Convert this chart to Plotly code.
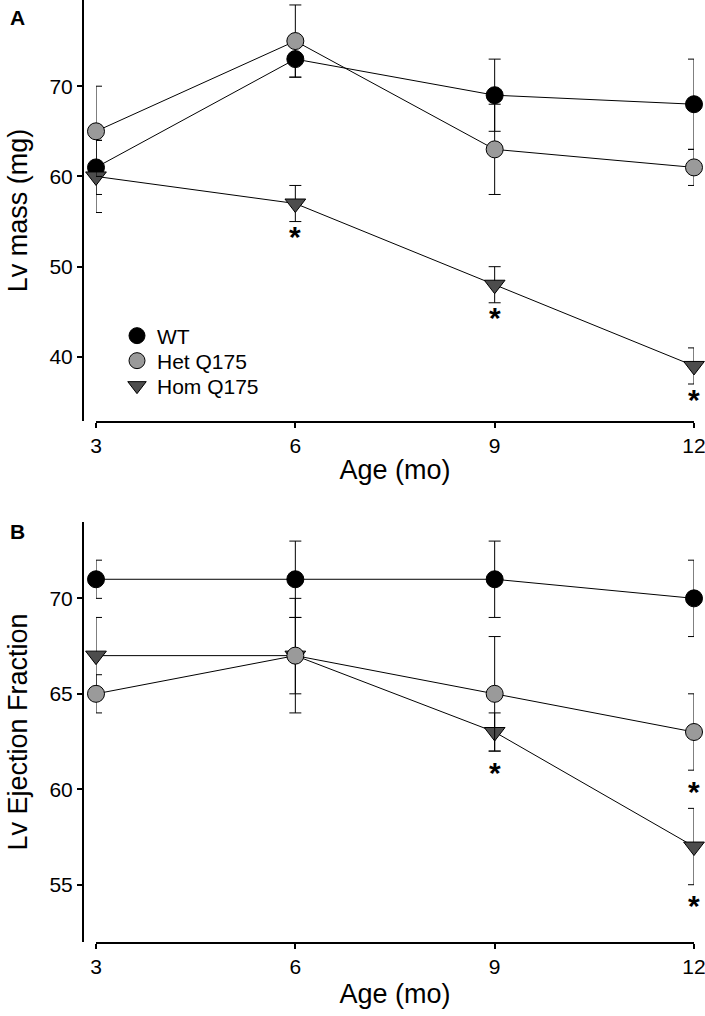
import plotly.graph_objects as go

# ---------------- data ----------------
ages = [3, 6, 9, 12]
series_names = ["WT", "Het Q175", "Hom Q175"]

# Panel A: LV mass (mg)
mass_wt = [61, 73, 69, 68]
mass_wt_err = [3, 2, 4, 5]
mass_het = [65, 75, 63, 61]
mass_het_err = [5, 4, 5, 2]
mass_hom = [60, 57, 48, 39]
mass_hom_err = [4, 2, 2, 2]
mass_hom_sig = [False, True, True, True]

# Panel B: LV ejection fraction
ef_wt = [71, 71, 71, 70]
ef_wt_err = [1, 2, 2, 2]
ef_het = [65, 67, 65, 63]
ef_het_err = [1, 3, 3, 2]
ef_hom = [67, 67, 63, 57]
ef_hom_err = [2, 2, 1, 2]
ef_het_sig = [False, False, False, True]
ef_hom_sig = [False, False, True, True]

mass_ticks = [40, 50, 60, 70]
ef_ticks = [55, 60, 65, 70]

# ---------------- styling ----------------
W, H = 705, 1016
FONT = "Liberation Sans, Arial, sans-serif"
colors = {"WT": "#000000", "Het Q175": "#9a9a9a", "Hom Q175": "#4d4d4d"}
symbols = {"WT": "circle", "Het Q175": "circle", "Hom Q175": "triangle-down"}
sizes = {"WT": 17, "Het Q175": 17, "Hom Q175": 18}

fig = go.Figure()

def add_panel(xa, ya, data):
    # lines first (behind everything)
    for name in ["WT", "Hom Q175", "Het Q175"]:
        vals, _ = data[name]
        fig.add_trace(go.Scatter(x=ages, y=vals, mode="lines", xaxis=xa, yaxis=ya,
                                 line=dict(color="black", width=1),
                                 showlegend=False, hoverinfo="skip", cliponaxis=False))
    for name in ["WT", "Hom Q175", "Het Q175"]:
        vals, err = data[name]
        fig.add_trace(go.Scatter(
            x=ages, y=vals, mode="markers", xaxis=xa, yaxis=ya, name=name,
            marker=dict(symbol=symbols[name], size=sizes[name], color=colors[name],
                        line=dict(color="black", width=1)),
            error_y=dict(type="data", array=err, visible=True, color="black",
                         thickness=1, width=6),
            cliponaxis=False, showlegend=False))

add_panel("x", "y", {"WT": (mass_wt, mass_wt_err), "Het Q175": (mass_het, mass_het_err),
                     "Hom Q175": (mass_hom, mass_hom_err)})
add_panel("x2", "y2", {"WT": (ef_wt, ef_wt_err), "Het Q175": (ef_het, ef_het_err),
                       "Hom Q175": (ef_hom, ef_hom_err)})

# legend-only traces (markers only, as in the reference), one legend box per entry
legend_ids = ["legend", "legend2", "legend3"]
legend_rows_px = [336, 361, 386]
for name, lid in zip(series_names, legend_ids):
    fig.add_trace(go.Scatter(x=[None], y=[None], mode="markers", name=name, xaxis="x", yaxis="y",
                             marker=dict(symbol=symbols[name], size=16, color=colors[name],
                                         line=dict(color="black", width=1)),
                             showlegend=True, legend=lid))

# significance asterisks
ann = []
def add_stars(xref, yref, vals, errs, sig, shift):
    for a, v, e, s in zip(ages, vals, errs, sig):
        if s:
            ann.append(dict(x=a, y=v - e, xref=xref, yref=yref, text="<b>*</b>",
                            showarrow=False, yanchor="middle", yshift=shift,
                            font=dict(family=FONT, size=30, color="black")))

add_stars("x", "y", mass_hom, mass_hom_err, mass_hom_sig, -15)
add_stars("x2", "y2", ef_het, ef_het_err, ef_het_sig, -21)
add_stars("x2", "y2", ef_hom, ef_hom_err, ef_hom_sig, -21)

# panel letters
ann.append(dict(x=17 / W, y=1 - 18 / H, xref="paper", yref="paper", text="<b>A</b>",
                showarrow=False, xanchor="center", yanchor="middle",
                font=dict(family=FONT, size=21, color="black")))
ann.append(dict(x=17 / W, y=1 - 531 / H, xref="paper", yref="paper", text="<b>B</b>",
                showarrow=False, xanchor="center", yanchor="middle",
                font=dict(family=FONT, size=21, color="black")))

x_dom = [96 / W, 694 / W]
yaxis_pos = 83 / W
axis_common = dict(showline=True, linecolor="black", linewidth=2, ticks="outside",
                   ticklen=5, tickwidth=2, tickcolor="black", showgrid=False, zeroline=False,
                   ticklabeloverflow="allow",
                   tickfont=dict(family=FONT, size=21, color="black"))
title_font = dict(family=FONT, size=27, color="black")

legend_common = dict(xanchor="left", yanchor="middle", bgcolor="rgba(0,0,0,0)",
                     font=dict(family=FONT, size=21, color="black"), itemsizing="trace")
legends = {lid: dict(x=(138 - 21) / W, y=1 - ypx / H, **legend_common)
           for lid, ypx in zip(legend_ids, legend_rows_px)}

fig.update_layout(
    width=W, height=H, margin=dict(l=0, r=0, t=0, b=0, autoexpand=False),
    paper_bgcolor="white", plot_bgcolor="white",
    font=dict(family=FONT, color="black"),
    xaxis=dict(domain=x_dom, anchor="y", range=[3, 12], tickvals=ages,
               title=dict(text="Age (mo)", font=title_font, standoff=4), **axis_common),
    yaxis=dict(domain=[1 - 421 / H, 1.0], anchor="free", position=yaxis_pos,
               range=[32.9, 79.55], tickvals=mass_ticks,
               title=dict(text="Lv mass (mg)", font=title_font, standoff=13), **axis_common),
    xaxis2=dict(domain=x_dom, anchor="y2", range=[3, 12], tickvals=ages,
                title=dict(text="Age (mo)", font=title_font, standoff=7), **axis_common),
    yaxis2=dict(domain=[1 - 942 / H, 1 - 522 / H], anchor="free", position=yaxis_pos,
                range=[52, 74], tickvals=ef_ticks,
                title=dict(text="Lv Ejection Fraction", font=title_font, standoff=13), **axis_common),
    annotations=ann,
    showlegend=True,
    **legends,
)

fig.write_html("out.html", config={"displayModeBar": False},
               post_script="document.body.style.margin='0';document.body.style.overflow='hidden';")
